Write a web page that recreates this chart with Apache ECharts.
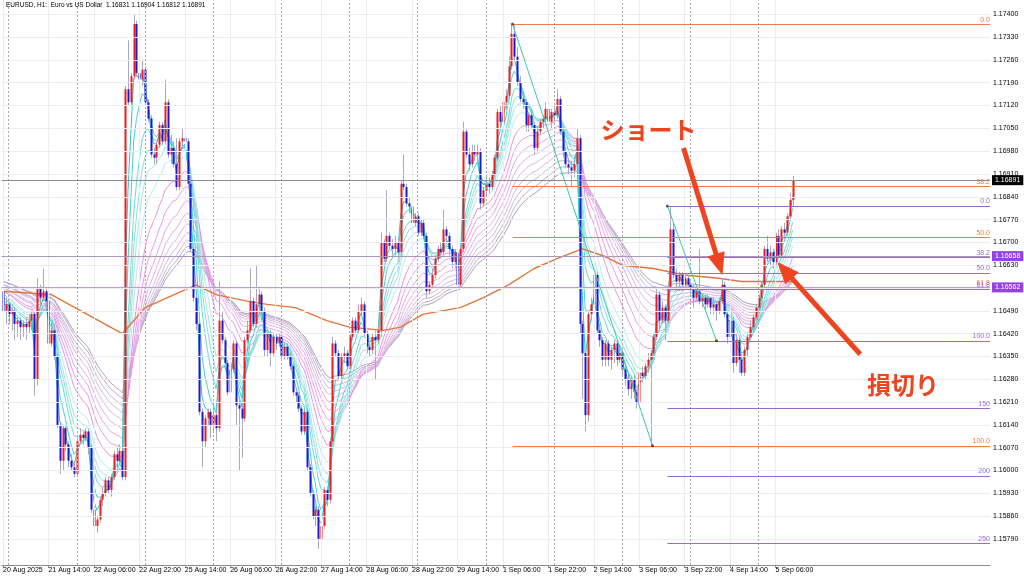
<!DOCTYPE html>
<html><head><meta charset="utf-8">
<script src="https://cdn.jsdelivr.net/npm/echarts@6/dist/echarts.min.js"></script>
<style>html,body{margin:0;padding:0;background:#fff}#c{width:1024px;height:578px}</style>
</head><body><div id="c"></div>
<script>
const TITLE = 'EURUSD, H1:  Euro vs US Dollar  1.16831 1.16904 1.16812 1.16891';
const TIME_TICKS = [0,16,32,48,64,80,96,112,128,144,160,176,192,208,224,240,256,272];
const TIME_LABELS = ['20 Aug 2025','21 Aug 14:00','22 Aug 06:00','22 Aug 22:00','25 Aug 14:00','26 Aug 06:00','26 Aug 22:00','27 Aug 14:00','28 Aug 06:00','28 Aug 22:00','29 Aug 14:00','1 Sep 06:00','1 Sep 22:00','2 Sep 14:00','3 Sep 06:00','3 Sep 22:00','4 Sep 14:00','5 Sep 06:00'];
const DAY_STARTS = [2,26,50,74,98,122,146,170,194,218,242,266];
const PRICE_TICKS = [1.1579,1.1586,1.1593,1.1600,1.1607,1.1614,1.1621,1.1628,1.1635,1.1642,1.1649,1.1656,1.1663,1.1670,1.1677,1.1684,1.1691,1.1698,1.1705,1.1712,1.1719,1.1726,1.1733,1.1740];

// hourly candles: [open, close, low, high]
const CANDLES = [
[1.1655,1.1649,1.1646,1.1656],[1.1649,1.1651,1.1645,1.1653],[1.1651,1.1648,1.1645,1.1652],[1.1648,1.1649,1.1643,1.1650],
[1.1649,1.1645,1.1640,1.1650],[1.1645,1.1646,1.1641,1.1647],[1.1646,1.1644,1.1640,1.1647],[1.1644,1.1645,1.1641,1.1646],
[1.1645,1.1644,1.1640,1.1647],[1.1644,1.1646,1.1642,1.1648],[1.1646,1.1648,1.1643,1.1649],[1.1648,1.1628,1.1623,1.1649],
[1.1628,1.1656,1.1626,1.1659],[1.1656,1.1653,1.1651,1.1657],[1.1653,1.1655,1.1652,1.1662],[1.1655,1.1652,1.1649,1.1656],
[1.1652,1.1639,1.1636,1.1653],[1.1639,1.1643,1.1638,1.1646],[1.1643,1.1635,1.1634,1.1645],[1.1635,1.1614,1.1613,1.1636],
[1.1614,1.1603,1.1599,1.1615],[1.1603,1.1613,1.1600,1.1614],[1.1613,1.1608,1.1606,1.1614],[1.1608,1.1603,1.1601,1.1609],
[1.1603,1.1601,1.1600,1.1605],[1.1601,1.1599,1.1598,1.1603],[1.1599,1.1609,1.1598,1.1610],[1.1609,1.1611,1.1608,1.1613],
[1.1611,1.1610,1.1608,1.1612],[1.1610,1.1612,1.1609,1.1613],[1.1612,1.1607,1.1605,1.1613],[1.1607,1.1588,1.1587,1.1608],
[1.1588,1.1583,1.1582,1.1589],[1.1583,1.1585,1.1581,1.1586],[1.1585,1.1591,1.1584,1.1592],[1.1591,1.1593,1.1589,1.1595],
[1.1593,1.1597,1.1592,1.1598],[1.1597,1.1594,1.1593,1.1598],[1.1594,1.1598,1.1592,1.1599],[1.1598,1.1605,1.1597,1.1606],
[1.1605,1.1603,1.1600,1.1607],[1.1603,1.1606,1.1602,1.1608],[1.1606,1.1598,1.1597,1.1607],[1.1598,1.1717,1.1597,1.1718],
[1.1717,1.1713,1.1712,1.1732],[1.1713,1.1721,1.1712,1.1722],[1.1721,1.1737,1.1720,1.1740],[1.1737,1.1722,1.1721,1.1738],
[1.1722,1.1720,1.1718,1.1725],[1.1720,1.1723,1.1718,1.1726],[1.1723,1.1713,1.1712,1.1724],[1.1713,1.1708,1.1707,1.1714],
[1.1708,1.1697,1.1696,1.1709],[1.1697,1.1696,1.1694,1.1699],[1.1696,1.1700,1.1694,1.1701],[1.1700,1.1706,1.1699,1.1707],
[1.1706,1.1701,1.1700,1.1707],[1.1701,1.1713,1.1700,1.1720],[1.1713,1.1697,1.1696,1.1714],[1.1697,1.1699,1.1694,1.1703],
[1.1699,1.1694,1.1693,1.1701],[1.1694,1.1687,1.1686,1.1702],[1.1687,1.1701,1.1686,1.1702],[1.1701,1.1702,1.1699,1.1705],
[1.1702,1.1701,1.1699,1.1705],[1.1701,1.1688,1.1687,1.1702],[1.1688,1.1668,1.1667,1.1690],[1.1668,1.1653,1.1652,1.1669],
[1.1653,1.1645,1.1643,1.1654],[1.1645,1.1618,1.1617,1.1646],[1.1618,1.1609,1.1601,1.1619],[1.1609,1.1616,1.1607,1.1617],
[1.1616,1.1618,1.1614,1.1619],[1.1618,1.1614,1.1610,1.1619],[1.1614,1.1617,1.1612,1.1620],[1.1617,1.1613,1.1609,1.1618],
[1.1613,1.1646,1.1612,1.1658],[1.1646,1.1640,1.1639,1.1649],[1.1640,1.1633,1.1631,1.1641],[1.1633,1.1624,1.1623,1.1634],
[1.1624,1.1631,1.1623,1.1632],[1.1631,1.1639,1.1630,1.1640],[1.1639,1.1620,1.1614,1.1640],[1.1620,1.1619,1.1600,1.1622],
[1.1619,1.1616,1.1604,1.1621],[1.1616,1.1640,1.1615,1.1641],[1.1640,1.1643,1.1639,1.1646],[1.1643,1.1652,1.1642,1.1662],
[1.1652,1.1645,1.1644,1.1653],[1.1645,1.1651,1.1644,1.1663],[1.1651,1.1654,1.1648,1.1656],[1.1654,1.1649,1.1646,1.1655],
[1.1649,1.1637,1.1635,1.1650],[1.1637,1.1642,1.1635,1.1643],[1.1642,1.1636,1.1632,1.1643],[1.1636,1.1641,1.1635,1.1642],
[1.1641,1.1639,1.1637,1.1642],[1.1639,1.1641,1.1638,1.1642],[1.1641,1.1635,1.1634,1.1642],[1.1635,1.1638,1.1634,1.1639],
[1.1638,1.1635,1.1634,1.1639],[1.1635,1.1632,1.1631,1.1636],[1.1632,1.1624,1.1623,1.1633],[1.1624,1.1623,1.1621,1.1625],
[1.1623,1.1619,1.1618,1.1624],[1.1619,1.1612,1.1611,1.1620],[1.1612,1.1618,1.1611,1.1619],[1.1618,1.1601,1.1600,1.1619],
[1.1601,1.1593,1.1592,1.1602],[1.1593,1.1586,1.1585,1.1594],[1.1586,1.1588,1.1583,1.1589],[1.1588,1.1579,1.1576,1.1589],
[1.1579,1.1583,1.1577,1.1584],[1.1583,1.1594,1.1582,1.1595],[1.1594,1.1591,1.1589,1.1595],[1.1591,1.1609,1.1590,1.1610],
[1.1609,1.1639,1.1608,1.1641],[1.1639,1.1636,1.1635,1.1640],[1.1636,1.1629,1.1628,1.1637],[1.1629,1.1635,1.1628,1.1636],
[1.1635,1.1636,1.1633,1.1638],[1.1636,1.1632,1.1631,1.1637],[1.1632,1.1641,1.1631,1.1642],[1.1641,1.1646,1.1640,1.1647],
[1.1646,1.1643,1.1642,1.1647],[1.1643,1.1649,1.1642,1.1651],[1.1649,1.1651,1.1648,1.1653],[1.1651,1.1642,1.1641,1.1652],
[1.1642,1.1638,1.1636,1.1643],[1.1638,1.1637,1.1635,1.1639],[1.1637,1.1641,1.1636,1.1642],[1.1641,1.1640,1.1628,1.1643],
[1.1640,1.1643,1.1639,1.1645],[1.1643,1.1670,1.1641,1.1673],[1.1670,1.1665,1.1664,1.1671],[1.1665,1.1672,1.1664,1.1686],
[1.1672,1.1669,1.1668,1.1673],[1.1669,1.1668,1.1666,1.1671],[1.1668,1.1670,1.1666,1.1672],[1.1670,1.1667,1.1665,1.1671],
[1.1667,1.1688,1.1666,1.1689],[1.1688,1.1687,1.1686,1.1697],[1.1687,1.1682,1.1681,1.1688],[1.1682,1.1681,1.1679,1.1684],
[1.1681,1.1676,1.1675,1.1682],[1.1676,1.1678,1.1675,1.1679],[1.1678,1.1673,1.1672,1.1679],[1.1673,1.1676,1.1672,1.1677],
[1.1676,1.1672,1.1671,1.1677],[1.1672,1.1655,1.1653,1.1673],[1.1655,1.1657,1.1654,1.1658],[1.1657,1.1660,1.1656,1.1662],
[1.1660,1.1665,1.1659,1.1666],[1.1665,1.1668,1.1664,1.1669],[1.1668,1.1667,1.1665,1.1670],[1.1667,1.1674,1.1666,1.1680],
[1.1674,1.1672,1.1670,1.1675],[1.1672,1.1668,1.1666,1.1673],[1.1668,1.1664,1.1662,1.1669],[1.1664,1.1667,1.1662,1.1668],
[1.1667,1.1657,1.1650,1.1668],[1.1657,1.1668,1.1656,1.1669],[1.1668,1.1704,1.1667,1.1707],[1.1704,1.1697,1.1696,1.1705],
[1.1697,1.1694,1.1692,1.1699],[1.1694,1.1698,1.1693,1.1700],[1.1698,1.1697,1.1695,1.1700],[1.1697,1.1698,1.1695,1.1700],
[1.1698,1.1682,1.1680,1.1699],[1.1682,1.1686,1.1681,1.1687],[1.1686,1.1688,1.1684,1.1690],[1.1688,1.1687,1.1685,1.1690],
[1.1687,1.1691,1.1686,1.1692],[1.1691,1.1696,1.1690,1.1697],[1.1696,1.1710,1.1695,1.1711],[1.1710,1.1707,1.1705,1.1712],
[1.1707,1.1713,1.1706,1.1714],[1.1713,1.1715,1.1711,1.1717],[1.1715,1.1724,1.1714,1.1727],[1.1724,1.1734,1.1723,1.1737],
[1.1734,1.1727,1.1726,1.1737],[1.1727,1.1719,1.1718,1.1730],[1.1719,1.1714,1.1713,1.1721],[1.1714,1.1713,1.1711,1.1716],
[1.1713,1.1706,1.1704,1.1714],[1.1706,1.1709,1.1704,1.1710],[1.1709,1.1706,1.1705,1.1711],[1.1706,1.1699,1.1697,1.1707],
[1.1699,1.1704,1.1698,1.1705],[1.1704,1.1707,1.1703,1.1708],[1.1707,1.1708,1.1705,1.1709],[1.1708,1.1711,1.1707,1.1713],
[1.1711,1.1707,1.1706,1.1712],[1.1707,1.1710,1.1705,1.1711],[1.1710,1.1709,1.1707,1.1712],[1.1709,1.1714,1.1708,1.1717],
[1.1714,1.1704,1.1703,1.1715],[1.1704,1.1698,1.1696,1.1705],[1.1698,1.1694,1.1693,1.1699],[1.1694,1.1693,1.1691,1.1696],
[1.1693,1.1692,1.1687,1.1695],[1.1692,1.1694,1.1690,1.1695],[1.1694,1.1702,1.1693,1.1705],[1.1702,1.1645,1.1642,1.1703],
[1.1645,1.1636,1.1622,1.1646],[1.1636,1.1617,1.1612,1.1637],[1.1617,1.1648,1.1615,1.1649],[1.1648,1.1651,1.1646,1.1653],
[1.1651,1.1660,1.1649,1.1669],[1.1660,1.1643,1.1642,1.1661],[1.1643,1.1640,1.1638,1.1645],[1.1640,1.1634,1.1632,1.1641],
[1.1634,1.1639,1.1632,1.1640],[1.1639,1.1634,1.1632,1.1640],[1.1634,1.1637,1.1631,1.1638],[1.1637,1.1639,1.1633,1.1640],
[1.1639,1.1634,1.1632,1.1640],[1.1634,1.1636,1.1633,1.1638],[1.1636,1.1631,1.1629,1.1637],[1.1631,1.1628,1.1626,1.1632],
[1.1628,1.1625,1.1623,1.1630],[1.1625,1.1628,1.1622,1.1629],[1.1628,1.1624,1.1622,1.1629],[1.1624,1.1621,1.1619,1.1625],
[1.1621,1.1630,1.1620,1.1631],[1.1630,1.1629,1.1627,1.1632],[1.1629,1.1632,1.1628,1.1633],[1.1632,1.1634,1.1630,1.1636],
[1.1634,1.1636,1.1607,1.1637],[1.1636,1.1641,1.1634,1.1642],[1.1641,1.1654,1.1640,1.1656],[1.1654,1.1646,1.1643,1.1655],
[1.1646,1.1650,1.1645,1.1652],[1.1650,1.1646,1.1640,1.1651],[1.1646,1.1656,1.1645,1.1658],[1.1656,1.1674,1.1655,1.1681],
[1.1674,1.1660,1.1659,1.1676],[1.1660,1.1658,1.1656,1.1662],[1.1658,1.1660,1.1655,1.1661],[1.1660,1.1657,1.1655,1.1661],
[1.1657,1.1659,1.1656,1.1660],[1.1659,1.1657,1.1656,1.1660],[1.1657,1.1656,1.1654,1.1658],[1.1656,1.1653,1.1650,1.1657],
[1.1653,1.1655,1.1652,1.1656],[1.1655,1.1652,1.1651,1.1668],[1.1652,1.1653,1.1650,1.1654],[1.1653,1.1651,1.1649,1.1654],
[1.1651,1.1653,1.1650,1.1654],[1.1653,1.1650,1.1648,1.1653],[1.1650,1.1651,1.1648,1.1653],[1.1651,1.1649,1.1646,1.1652],
[1.1649,1.1652,1.1648,1.1653],[1.1652,1.1657,1.1651,1.1659],[1.1657,1.1648,1.1647,1.1658],[1.1648,1.1641,1.1639,1.1649],
[1.1641,1.1646,1.1640,1.1647],[1.1646,1.1633,1.1630,1.1647],[1.1633,1.1640,1.1632,1.1642],[1.1640,1.1634,1.1630,1.1641],
[1.1634,1.1630,1.1629,1.1636],[1.1630,1.1637,1.1629,1.1638],[1.1637,1.1641,1.1635,1.1642],[1.1641,1.1644,1.1640,1.1646],
[1.1644,1.1647,1.1643,1.1648],[1.1647,1.1650,1.1646,1.1651],[1.1650,1.1653,1.1649,1.1654],[1.1653,1.1657,1.1652,1.1658],
[1.1657,1.1668,1.1656,1.1669],[1.1668,1.1665,1.1664,1.1672],[1.1665,1.1667,1.1663,1.1669],[1.1667,1.1664,1.1662,1.1668],
[1.1664,1.1672,1.1663,1.1673],[1.1672,1.1666,1.1665,1.1674],[1.1666,1.1674,1.1665,1.1675],[1.1674,1.1673,1.1671,1.1676],
[1.1673,1.1678,1.1672,1.1679],[1.1678,1.1683,1.1677,1.1685],[1.16831,1.16891,1.16812,1.16904]
];

// slow orange moving average (bar index, value)
const MA_IDX = [0,17,42,50,68,75,86,93,103,114,122,134,140,148,161,169,178,187,195,204,211,218,229,240,252,260,268,278];
const MA_VAL = [1.1655,1.1654,1.1642,1.1650,1.1657,1.1654,1.1652,1.1651,1.1650,1.1646,1.1644,1.1643,1.1644,1.1648,1.1650,1.1653,1.1657,1.1662,1.1665,1.1668,1.1666,1.1663,1.1662,1.1660,1.1659,1.1658,1.1658,1.1658];

// EMA ribbon: periods, starting values at the first bar, colours
const EMA_PERIODS = [3,5,8,10,12,15,20,25,30,35,40,45,50,55,60];
const EMA_START = [1.1651,1.1652,1.1653,1.1653,1.1654,1.1654,1.1655,1.1655,1.1656,1.1656,1.1657,1.1657,1.1657,1.1658,1.1658];
const EMA_COLORS = ['#2cc6cc','#48cfd0','#66d8d6','#84e0dc','#a0e6e2','#b8ece8',
  '#e890e8','#e89ae8','#e6a4e8','#e2aee6','#dcb4e2','#d4b6de','#cab4d8','#bcaccc','#ac9cbc'];

// Fibonacci retracements
const FIB_A_LEVELS = ['0.0','38.2','50.0','61.8','100.0'];
const FIB_A_PRICES = [1.17370,1.16871,1.16716,1.16563,1.16076];
const FIB_A_LINE = [179.4,1.17370,228.7,1.16076];
const FIB_B_LEVELS = ['0.0','38.2','50.0','61.8','100.0','150','200','250'];
const FIB_B_PRICES = [1.16812,1.16654,1.16606,1.16556,1.16398,1.16191,1.15984,1.15777];
const FIB_B_LINE = [233.9,1.16812,251.2,1.16398];

// horizontal lines with price tags
const H_PRICES = [1.16891,1.16658,1.16562];
const H_LABELS = ['1.16891','1.16658','1.16562'];

// annotations
const NOTE_TEXT = ['ショート','損切り'];
const NOTE_POS = [[227.3,1.17045],[316.9,1.16262]];
const ARROWS = [[239.6,1.16990,253.3,1.16600],[301.8,1.16357,272.6,1.16640]];

const X_MIN = -0.5, X_MAX = 347.5;
const RED = '#ee1c1c', BLUE = '#1a1ad6', WICK = '#a8a8bc';
const ORANGE_FIB = '#f2784a', PURPLE_FIB = '#9a6ad2', TEAL = '#3cc8b0';
const ANN = '#ee4420';
const FONT = 'Liberation Sans';

const chart = echarts.init(document.getElementById('c'), null, {renderer:'canvas'});

function emaSeries(k) {
  const a = 2 / (EMA_PERIODS[k] + 1);
  let e = EMA_START[k];
  const out = [];
  CANDLES.forEach((r, i) => { if (i > 0) e = r[1] * a + e * (1 - a); out.push([i, e]); });
  return out;
}
function hSeg(p, style, label) {
  return [{coord:[X_MIN, p], lineStyle:style, label:label || {show:false}}, {coord:[X_MAX, p]}];
}

const series = [];

// background grid
const gridMarks = [];
PRICE_TICKS.forEach(p => gridMarks.push(hSeg(p, {color:'#ececf2', type:'solid', width:1})));
TIME_TICKS.forEach(t => gridMarks.push({xAxis: t, lineStyle:{color:'#ececf2', type:'solid', width:1}}));
DAY_STARTS.forEach(t => gridMarks.push({xAxis: t, lineStyle:{color:'#a8a8a8', type:[2,2], width:1}}));
series.push({type:'line', data:[], z:1, silent:true,
  markLine:{silent:true, symbol:['none','none'], label:{show:false}, animation:false, data:gridMarks}});

// fib lines
const fibMarks = [];
FIB_A_PRICES.forEach((p, k) => fibMarks.push([
  {coord:[FIB_A_LINE[0], p], lineStyle:{color:ORANGE_FIB, width:1, type:'solid'},
   label:{show:true, position:'insideEndTop', formatter:FIB_A_LEVELS[k], color:ORANGE_FIB, fontSize:7, fontFamily:FONT, distance:[0,1]}},
  {coord:[X_MAX, p]}]));
FIB_B_PRICES.forEach((p, k) => fibMarks.push([
  {coord:[FIB_B_LINE[0], p], lineStyle:{color:PURPLE_FIB, width:1, type:'solid'},
   label:{show:true, position:'insideEndTop', formatter:FIB_B_LEVELS[k], color:PURPLE_FIB, fontSize:7, fontFamily:FONT, distance:[0,1]}},
  {coord:[X_MAX, p]}]));
fibMarks.push([{coord:[FIB_A_LINE[0],FIB_A_LINE[1]], lineStyle:{color:TEAL,width:1,type:'solid'}, label:{show:false}},{coord:[FIB_A_LINE[2],FIB_A_LINE[3]]}]);
fibMarks.push([{coord:[FIB_B_LINE[0],FIB_B_LINE[1]], lineStyle:{color:TEAL,width:1,type:'solid'}, label:{show:false}},{coord:[FIB_B_LINE[2],FIB_B_LINE[3]]}]);
const hColors = ['#8c8c8c','#a898bc','#b49ee0'];
const hBoxes = ['#000000','#9444dd','#9444dd'];
H_PRICES.forEach((p, k) => fibMarks.push(hSeg(p, {color:hColors[k], width:1, type:'solid'},
  {show:true, position:'end', formatter:H_LABELS[k], color:'#fff', backgroundColor:hBoxes[k],
    padding:[2,3,1,3], fontSize:7, fontFamily:FONT, distance:2})));
series.push({type:'line', data:[], z:2, silent:true,
  markLine:{silent:true, symbol:['none','none'], animation:false, data:fibMarks}});

// anchor dots
series.push({type:'scatter', z:6, silent:true, symbolSize:3, itemStyle:{color:'#333'},
  data:[[FIB_A_LINE[0],FIB_A_LINE[1]],[FIB_A_LINE[2],FIB_A_LINE[3]],[FIB_B_LINE[0],FIB_B_LINE[1]],[FIB_B_LINE[2],FIB_B_LINE[3]]]});

// EMA ribbon (slow first so fast lines sit on top)
for (let k = EMA_PERIODS.length - 1; k >= 0; k--) {
  series.push({type:'line', data:emaSeries(k), z:3, silent:true, showSymbol:false, symbol:'none',
    lineStyle:{color:EMA_COLORS[k], width:1}, clip:true});
}

// orange MA
series.push({type:'line', data:MA_IDX.map((t, k) => [t, MA_VAL[k]]), z:3, silent:true, showSymbol:false, symbol:'none',
  lineStyle:{color:'#e2763a', width:1.4}});

// candles
series.push({type:'custom', z:4, silent:true, clip:true,
  data: CANDLES.map((r, i) => [i, r[0], r[1], r[2], r[3]]),
  encode:{x:0, y:[1,2,3,4]},
  renderItem(params, api) {
    const i = api.value(0), o = api.value(1), c = api.value(2), l = api.value(3), h = api.value(4);
    const pO = api.coord([i, o]), pC = api.coord([i, c]), pL = api.coord([i, l]), pH = api.coord([i, h]);
    const px = Math.round(pO[0]);
    const top = Math.min(pO[1], pC[1]), bot = Math.max(pO[1], pC[1]);
    return {type:'group', children:[
      {type:'line', shape:{x1:px+0.5, y1:pH[1], x2:px+0.5, y2:pL[1]}, style:{stroke:WICK, lineWidth:1}},
      {type:'rect', shape:{x:px-0.5, y:top, width:2, height:Math.max(1, bot-top)}, style:{fill: c >= o ? RED : BLUE}}
    ]};
  }});

// arrows
series.push({type:'custom', z:8, silent:true, clip:false,
  data: ARROWS, encode:{x:[0,2], y:[1,3]},
  renderItem(params, api) {
    const t = api.coord([api.value(0), api.value(1)]);
    const h = api.coord([api.value(2), api.value(3)]);
    const dx = h[0]-t[0], dy = h[1]-t[1], len = Math.hypot(dx, dy), ux = dx/len, uy = dy/len;
    const HL = 22, HW = 9;
    const bx = h[0]-ux*HL, by = h[1]-uy*HL, nx = -uy, ny = ux;
    return {type:'group', children:[
      {type:'line', shape:{x1:t[0], y1:t[1], x2:bx+ux*3, y2:by+uy*3}, style:{stroke:ANN, lineWidth:5}},
      {type:'polygon', shape:{points:[[h[0],h[1]],[bx+nx*HW,by+ny*HW],[bx-nx*HW,by-ny*HW]]}, style:{fill:ANN}}
    ]};
  }});

// notes
series.push({type:'custom', z:8, silent:true, clip:false,
  data: NOTE_POS, encode:{x:0, y:1},
  renderItem(params, api) {
    const p = api.coord([api.value(0), api.value(1)]);
    return {type:'text', x:p[0], y:p[1], style:{text:NOTE_TEXT[params.dataIndex], fill:ANN,
      font:'bold 24px "Noto Sans CJK JP"', align:'center', verticalAlign:'middle'}};
  }});

chart.setOption({
  animation:false,
  backgroundColor:'#ffffff',
  textStyle:{fontFamily:FONT},
  grid:{left:0, right:34, top:1, bottom:13, containLabel:false},
  graphic:[{type:'text', left:6, top:2, z:100, style:{text:TITLE, fill:'#000', font:'6.5px "Liberation Sans"'}}],
  xAxis:{type:'value', min:X_MIN, max:X_MAX, position:'bottom',
    axisLine:{show:true, lineStyle:{color:'#8c8c8c', width:1}},
    axisTick:{show:true, customValues:TIME_TICKS, length:3, lineStyle:{color:'#8c8c8c'}},
    axisLabel:{show:true, customValues:TIME_TICKS, formatter:v => TIME_LABELS[TIME_TICKS.indexOf(Math.round(v))] || '',
      align:'left', margin:2, fontSize:7, color:'#000', fontFamily:FONT, hideOverlap:false},
    splitLine:{show:false}},
  yAxis:{type:'value', position:'right', min:1.157102, max:1.174408, scale:true,
    axisLine:{show:true, lineStyle:{color:'#8c8c8c', width:1}},
    axisTick:{show:true, customValues:PRICE_TICKS, length:3, lineStyle:{color:'#8c8c8c'}},
    axisLabel:{show:true, customValues:PRICE_TICKS, formatter:v => v.toFixed(5), margin:3, fontSize:7, color:'#000', fontFamily:FONT, hideOverlap:false},
    splitLine:{show:false}},
  series
});
</script></body></html>
